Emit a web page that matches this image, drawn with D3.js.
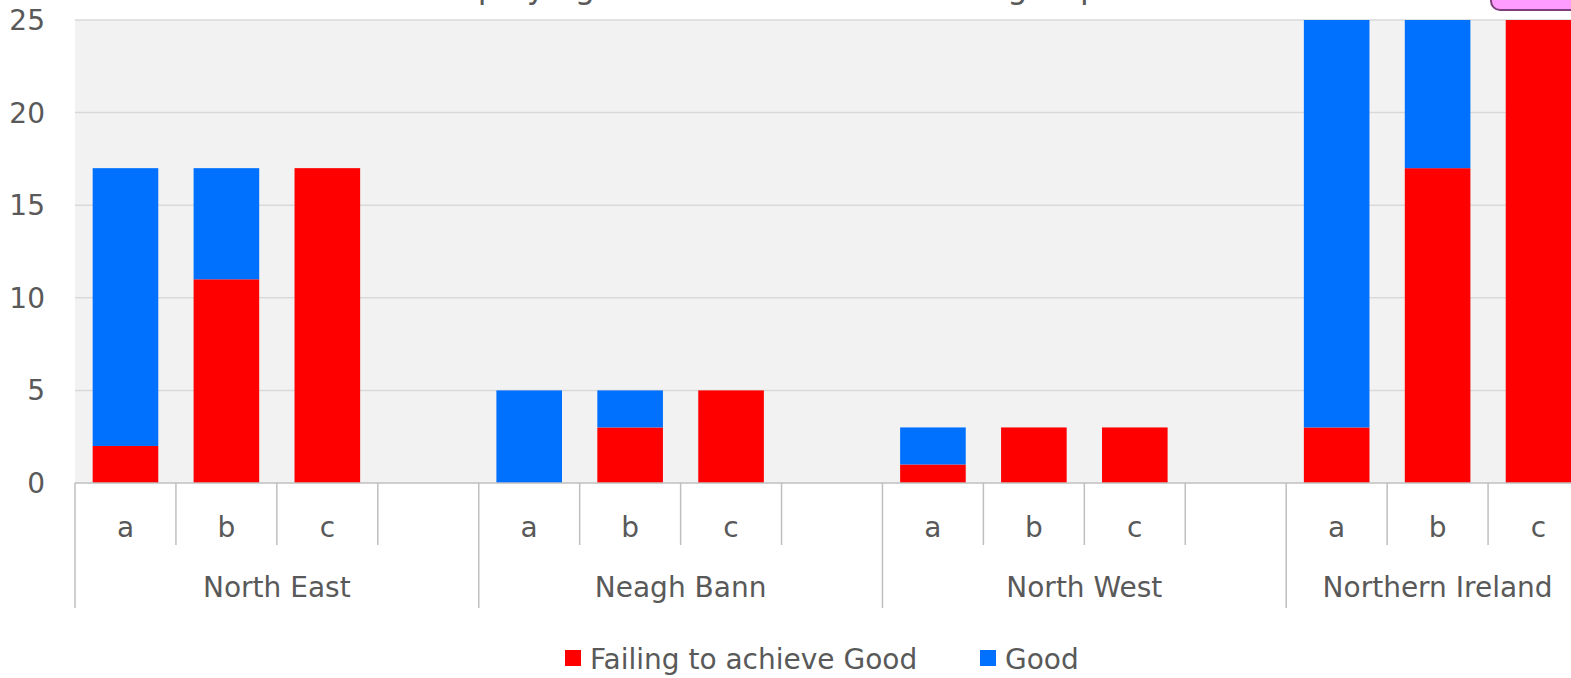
<!DOCTYPE html>
<html>
<head>
<meta charset="utf-8">
<script src="https://cdn.jsdelivr.net/npm/d3@7"></script>
<style>
  html, body { margin: 0; padding: 0; background: #ffffff; overflow: hidden; }
  svg { display: block; }
  text { font-family: "DejaVu Sans", sans-serif; fill: #595959; }
</style>
</head>
<body>
<svg id="chart" width="1571" height="678"></svg>
<script>
// ---- data ----
const titleText = "Number of Waterbodies displaying Good Status in each sub-group";
const groups = ["North East", "Neagh Bann", "North West", "Northern Ireland"];
const subLabels = [["a", "b", "c", ""], ["a", "b", "c", ""], ["a", "b", "c", ""], ["a", "b", "c"]];
const failing = [[2, 11, 17], [0, 3, 5], [1, 3, 3], [3, 17, 25]];
const good = [[15, 6, 0], [5, 2, 0], [2, 0, 0], [22, 8, 0]];
const seriesNames = ["Failing to achieve Good", "Good"];
const seriesColors = ["#ff0000", "#0070ff"];
const yTicks = [0, 5, 10, 15, 20, 25];

(function () {
// ---- layout ----
const svg = d3.select("#chart");
const pLeft = 75, pRight = 1589, pTop = 20, pBottom = 483;

// build slots
const slots = [];
groups.forEach((g, gi) => {
  subLabels[gi].forEach((s, si) => {
    slots.push({
      id: gi + "_" + si, group: g, gi, si, label: s,
      fail: s ? failing[gi][si] : null,
      good: s ? good[gi][si] : null
    });
  });
});

const x = d3.scaleBand().domain(slots.map(d => d.id)).range([pLeft, pRight]).paddingInner(0).paddingOuter(0);
const y = d3.scaleLinear().domain([0, 25]).range([pBottom, pTop]);
const bw = x.bandwidth();
const barW = bw * 0.65;

// title (mostly cut off at top, as in the reference)
svg.append("text")
  .attr("x", 42).attr("y", -2)
  .style("font-size", "32px")
  .text(titleText);

// plot background
svg.append("rect")
  .attr("x", pLeft).attr("y", pTop)
  .attr("width", 1571 - pLeft).attr("height", pBottom - pTop)
  .attr("fill", "#f2f2f2");

// gridlines
svg.append("g").selectAll("line").data(yTicks.filter(t => t > 0)).join("line")
  .attr("x1", pLeft).attr("x2", 1571)
  .attr("y1", d => y(d)).attr("y2", d => y(d))
  .attr("stroke", "#d9d9d9").attr("stroke-width", 1.5);

// y axis labels
const yAxis = d3.axisLeft(y).tickValues(yTicks).tickSize(0).tickPadding(0);
const yg = svg.append("g").attr("transform", "translate(45,0)").call(yAxis);
yg.select(".domain").remove();
yg.selectAll("text")
  .style("font-family", "DejaVu Sans, sans-serif")
  .style("font-size", "28px")
  .attr("fill", "#595959")
  .attr("dy", "0.34em");

// stacked bars
const stackData = slots.filter(d => d.label);
const bars = svg.append("g");
stackData.forEach(d => {
  const cx = x(d.id) + bw / 2;
  if (d.fail > 0) {
    bars.append("rect")
      .attr("x", cx - barW / 2).attr("width", barW)
      .attr("y", y(d.fail)).attr("height", y(0) - y(d.fail))
      .attr("fill", seriesColors[0]);
  }
  if (d.good > 0) {
    bars.append("rect")
      .attr("x", cx - barW / 2).attr("width", barW)
      .attr("y", y(d.fail + d.good)).attr("height", y(d.fail) - y(d.fail + d.good))
      .attr("fill", seriesColors[1]);
  }
});

// x axis line
svg.append("line")
  .attr("x1", pLeft).attr("x2", 1571)
  .attr("y1", pBottom).attr("y2", pBottom)
  .attr("stroke", "#bfbfbf").attr("stroke-width", 1.5);

// separators
const sep = svg.append("g");
slots.forEach(d => {
  const xb = x(d.id);
  const isGroupStart = d.si === 0;
  sep.append("line")
    .attr("x1", xb).attr("x2", xb)
    .attr("y1", pBottom).attr("y2", isGroupStart ? 608 : 545)
    .attr("stroke", "#bfbfbf").attr("stroke-width", 1.5);
});

// sub labels
svg.append("g").selectAll("text").data(slots.filter(d => d.label)).join("text")
  .attr("x", d => x(d.id) + bw / 2)
  .attr("y", 537)
  .attr("text-anchor", "middle")
  .style("font-size", "28px")
  .text(d => d.label);

// group labels
svg.append("g").selectAll("text").data(groups).join("text")
  .attr("x", (g, gi) => {
    const gs = slots.filter(s => s.gi === gi);
    return (x(gs[0].id) + x(gs[gs.length - 1].id) + bw) / 2;
  })
  .attr("y", 597)
  .attr("text-anchor", "middle")
  .style("font-size", "28px")
  .text(d => d);

// legend
const legendX = [565, 980];
const lg = svg.append("g");
seriesNames.forEach((n, i) => {
  lg.append("rect")
    .attr("x", legendX[i]).attr("y", 650)
    .attr("width", 16).attr("height", 16)
    .attr("fill", seriesColors[i]);
  lg.append("text")
    .attr("x", legendX[i] + 25).attr("y", 669)
    .style("font-size", "28px")
    .text(n);
});

// pink control shape at top right (cut off)
svg.append("rect")
  .attr("x", 1491).attr("y", -30)
  .attr("width", 120).attr("height", 40)
  .attr("rx", 9)
  .attr("fill", "#ff9cff")
  .attr("stroke", "#7f3f7f").attr("stroke-width", 2);
})();
</script>
</body>
</html>
